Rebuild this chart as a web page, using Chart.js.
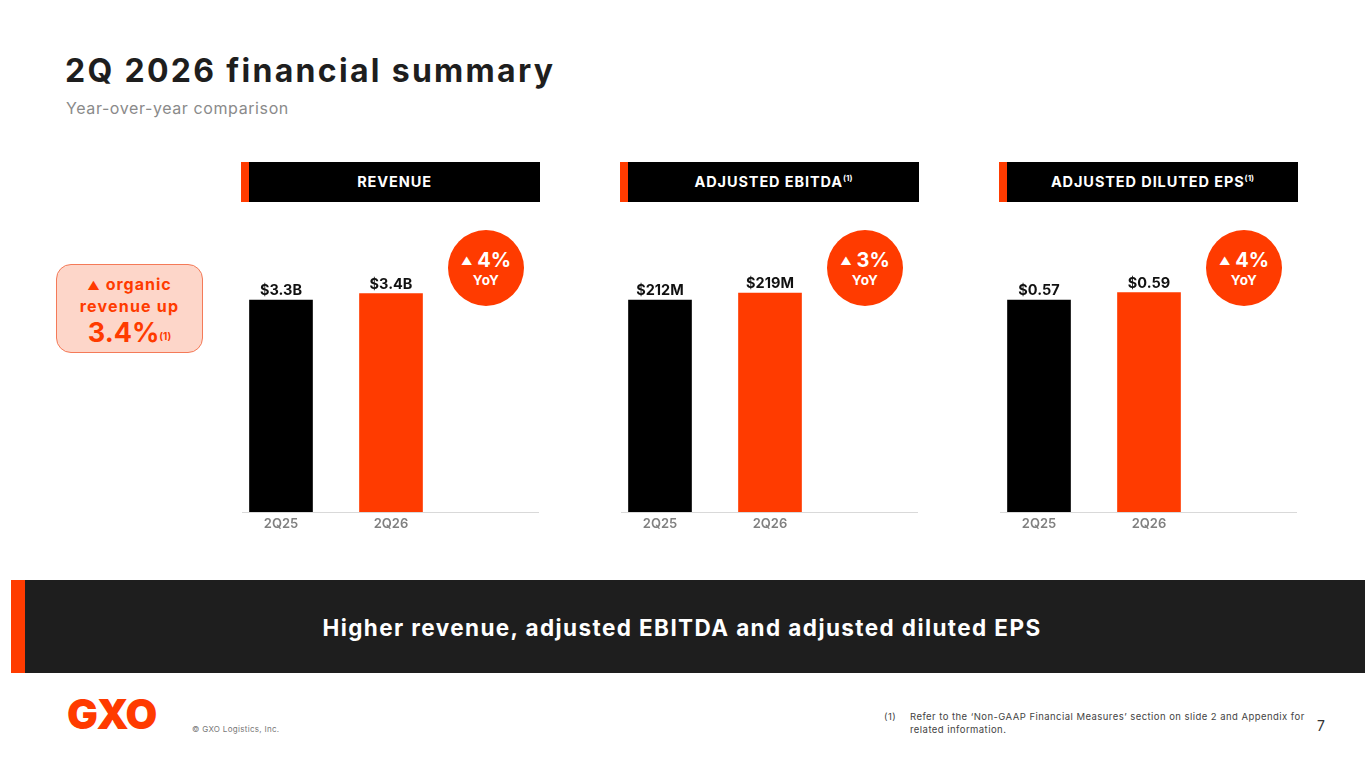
<!DOCTYPE html>
<html>
<head>
<meta charset="utf-8">
<script src="https://cdn.jsdelivr.net/npm/chart.js@4.4.1/dist/chart.umd.min.js"></script>
<style>
  html, body { margin: 0; padding: 0; background: #fff; }
  body { width: 1365px; height: 768px; position: relative; overflow: hidden; font-family: Inter, "Open Sans", sans-serif; }
  .abs { position: absolute; }
  .title { left: 65px; top: 51px; font-size: 32px; font-weight: 700; color: #1e1e1e; letter-spacing: 2.3px; white-space: nowrap; }
  .subtitle { left: 66px; top: 98px; font-size: 16px; color: #8a8a8a; letter-spacing: 0.6px; }
  .head { height: 40px; width: 299px; background: #000; top: 162px; border-left: 8px solid #ff3b00; box-sizing: border-box;
          color: #fff; font-size: 14.5px; font-weight: 700; text-align: center; line-height: 40px; letter-spacing: 0.9px; }
  .head sup { font-size: 8px; vertical-align: 6px; line-height: 0; letter-spacing: 0; }
  .box { width: 76px; height: 76px; border-radius: 50%; background: #ff3b00; color: #fff; text-align: center; font-weight: 700; }
  .box .pct { font-size: 20px; margin-top: 19px; line-height: 22px; }
  .box .pct small { font-size: 11px; vertical-align: 2px; }
  .box .yoy { font-size: 13.5px; line-height: 17px; letter-spacing: 0.5px; }
  .chartbox { width: 330px; height: 320px; top: 220px; }
  .callout { left: 56px; top: 264px; width: 147px; height: 89px; box-sizing: border-box; border: 1.5px solid #f47a58; border-radius: 15px;
             background: #fdd6c9; color: #ff3b00; text-align: center; font-weight: 700; }
  .callout .l1 { font-size: 16px; line-height: 21px; margin-top: 9px; letter-spacing: 1px; }
  .callout .l1 small { font-size: 12px; }
  .callout .l2 { font-size: 16px; line-height: 21px; letter-spacing: 1.2px; }
  .callout .l3 { font-size: 27px; line-height: 31px; }
  .callout .l3 span { font-size: 10px; vertical-align: 2px; }
  .banner { left: 11px; top: 580px; width: 1354px; height: 93px; background: #1e1e1e; border-left: 14px solid #ff3b00; box-sizing: border-box;
            padding-right: 26px; color: #fff; font-size: 22.5px; font-weight: 700; text-align: center; line-height: 95px; letter-spacing: 1.4px; }
  .logo { left: 67px; top: 689px; font-size: 41px; font-weight: 900; color: #ff3b00; letter-spacing: -0.5px; }
  .copy { left: 192px; top: 724px; font-size: 8px; color: #777; letter-spacing: 0.3px; }
  .fn { top: 710px; font-size: 9.5px; color: #444; line-height: 13px; letter-spacing: 0.45px; }
  .page { left: 1317px; top: 717px; font-size: 14px; color: #333; }
</style>
</head>
<body>
<div class="abs title">2Q 2026 financial summary</div>
<div class="abs subtitle">Year-over-year comparison</div>

<div class="abs callout">
  <div class="l1"><small>▲</small> organic</div>
  <div class="l2">revenue up</div>
  <div class="l3">3.4%<span>(1)</span></div>
</div>

<div class="abs head" style="left:241px">REVENUE</div>
<div class="abs head" style="left:620px">ADJUSTED EBITDA<sup>(1)</sup></div>
<div class="abs head" style="left:999px">ADJUSTED DILUTED EPS<sup>(1)</sup></div>

<div class="abs chartbox" style="left:226px"><canvas id="c0"></canvas></div>
<div class="abs chartbox" style="left:605px"><canvas id="c1"></canvas></div>
<div class="abs chartbox" style="left:984px"><canvas id="c2"></canvas></div>

<div class="abs box" style="left:448px;top:230px"><div class="pct"><small>▲</small> 4%</div><div class="yoy">YoY</div></div>
<div class="abs box" style="left:827px;top:230px"><div class="pct"><small>▲</small> 3%</div><div class="yoy">YoY</div></div>
<div class="abs box" style="left:1206px;top:230px"><div class="pct"><small>▲</small> 4%</div><div class="yoy">YoY</div></div>

<div class="abs banner">Higher revenue, adjusted EBITDA and adjusted diluted EPS</div>

<div class="abs logo">GXO</div>
<div class="abs copy">© GXO Logistics, Inc.</div>
<div class="abs fn" style="left:884px">(1)</div>
<div class="abs fn" style="left:910px">Refer to the ‘Non-GAAP Financial Measures’ section on slide 2 and Appendix for<br>related information.</div>
<div class="abs page">7</div>

<script>
const periods = ['2Q25', '2Q26', ''];
const revenue = [3.3, 3.4];          // $B
const ebitda = [212, 219];           // $M
const eps = [0.57, 0.59];            // $
const revenueLabels = ['$3.3B', '$3.4B'];
const ebitdaLabels = ['$212M', '$219M'];
const epsLabels = ['$0.57', '$0.59'];
const yMax = [4.545, 292, 0.785];
const barColors = ['#000000', '#ff3b00'];

// value labels above bars + short axis line
const barText = {
  id: 'barText',
  afterDatasetsDraw(chart, args, opts) {
    const ctx = chart.ctx;
    const meta = chart.getDatasetMeta(0);
    ctx.save();
    ctx.font = '700 14.5px Inter, sans-serif';
    ctx.fillStyle = '#111';
    ctx.textAlign = 'center';
    ctx.textBaseline = 'alphabetic';
    meta.data.forEach((bar, i) => {
      ctx.fillText(opts.labels[i], bar.x, bar.y - 5);
    });
    const a = chart.chartArea;
    ctx.strokeStyle = '#d9d9d9';
    ctx.lineWidth = 1;
    ctx.beginPath();
    ctx.moveTo(a.left + 16, a.bottom + 0.5);
    ctx.lineTo(a.left + 313, a.bottom + 0.5);
    ctx.stroke();
    ctx.restore();
  }
};

function makeChart(id, values, labels, max) {
  new Chart(document.getElementById(id), {
    type: 'bar',
    data: {
      labels: periods,
      datasets: [{ data: values, backgroundColor: barColors, barThickness: 63 }]
    },
    options: {
      responsive: true,
      maintainAspectRatio: false,
      animation: false,
      layout: { padding: 0 },
      plugins: { legend: { display: false }, tooltip: { enabled: false }, barText: { labels: labels } },
      scales: {
        x: {
          grid: { display: false, drawTicks: false },
          border: { display: false },
          ticks: { color: '#808080', font: { family: 'Inter', size: 13, weight: '600' }, padding: 4 },
          afterFit(axis) { axis.height = 28; }
        },
        y: { display: false, min: 0, max: max }
      }
    },
    plugins: [barText]
  });
}

makeChart('c0', revenue, revenueLabels, yMax[0]);
makeChart('c1', ebitda, ebitdaLabels, yMax[1]);
makeChart('c2', eps, epsLabels, yMax[2]);
</script>
</body>
</html>
